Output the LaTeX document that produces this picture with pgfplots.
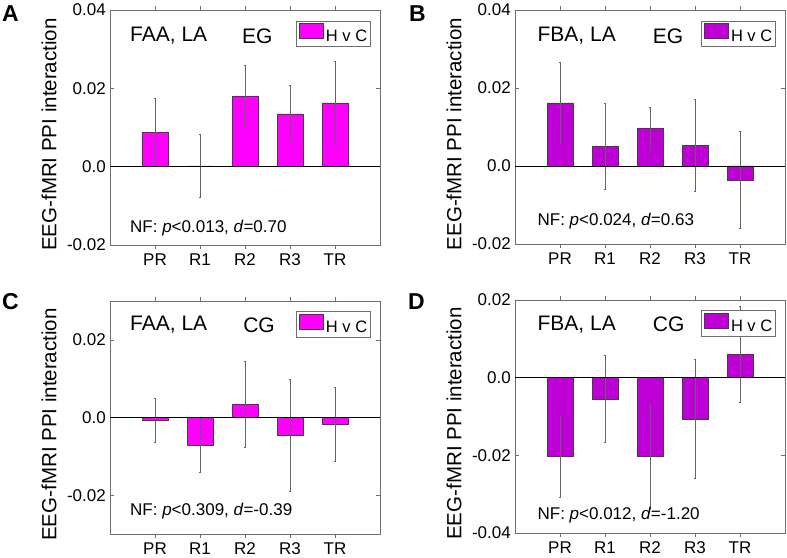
\documentclass[border=0pt]{standalone}
\usepackage{fontspec}
\setmainfont{Liberation Sans}
\usepackage{pgfplots}
\pgfplotsset{compat=1.18}
\definecolor{mag}{RGB}{255,0,255}
\definecolor{pur}{RGB}{190,0,215}
\definecolor{frame}{RGB}{110,110,110}
\definecolor{errc}{RGB}{100,100,100}

\pgfplotsset{
 panel/.style={
  scale only axis, width=270pt,
  xmin=0, xmax=6, xtick={1,2,3,4,5}, xticklabels={PR,R1,R2,R3,TR},
  scaled y ticks=false,
  axis line style={frame, line width=0.6pt},
  tick style={frame, line width=0.6pt},
  tick align=inside, major tick length=4pt,
  yticklabel style={font=\fontsize{17}{17}\selectfont, inner sep=0pt, xshift=-4pt},
  xticklabel style={font=\fontsize{17}{17}\selectfont, inner sep=0pt, yshift=-4.5pt},
  ylabel={EEG-fMRI PPI interaction},
  ylabel style={font=\fontsize{20.5}{20.5}\selectfont, at={(axis description cs:-0.226,0.47)}, anchor=center},
  ybar, bar width=26pt,
  legend style={at={(rel axis cs:0.965,0.955)}, anchor=north east, draw=frame, line width=0.6pt,
     font=\fontsize{16.5}{16.5}\selectfont, inner xsep=2pt, inner ysep=2.5pt,
     nodes={inner xsep=1pt, inner ysep=1pt}},
  legend cell align=left,
  legend image code/.code={\draw[##1, line width=0.5pt] (0pt,-2.5pt) rectangle (24pt,12.5pt);
     \path (26pt,0pt);},
  error bars/error bar style={errc, line width=0.6pt},
  error bars/error mark options={rotate=90, mark size=1.2pt, errc, line width=0.6pt},
 },
}
\tikzset{
 ttl/.style={anchor=west, inner sep=0pt, font=\fontsize{21}{21}\selectfont},
 nf/.style={anchor=west, inner sep=0pt, font=\fontsize{17}{17}\selectfont},
}

\begin{document}
\begin{tikzpicture}
% ---------------- A ----------------
\begin{axis}[panel, at={(110pt,312pt)}, anchor=south west, height=235pt,
  ymin=-0.02, ymax=0.04, ytick={-0.02,0,0.02,0.04}, yticklabels={-0.02,0.0,0.02,0.04}]
\addplot[fill=mag, draw=black!75, line width=0.5pt,
  error bars/.cd, y dir=both, y explicit] coordinates {
  (1,0.0088) +- (0,0.0087)
  (2,0.0002) +- (0,0.0080)
  (3,0.0180) +- (0,0.0080)
  (4,0.0135) +- (0,0.0074)
  (5,0.0163) +- (0,0.0107)
};
\addlegendentry{H v C}
\draw[black, line width=0.7pt] (axis cs:0,0) -- (axis cs:6,0);
\node[ttl] at (rel axis cs:0.074,0.889) {FAA, LA};
\node[ttl] at (rel axis cs:0.489,0.889) {EG};
\node[nf] at (rel axis cs:0.074,0.072) {NF: \textit{p}<0.013, \textit{d}=0.70};
\end{axis}
% ---------------- B ----------------
\begin{axis}[panel, at={(515pt,313pt)}, anchor=south west, height=234pt,
  ymin=-0.02, ymax=0.04, ytick={-0.02,0,0.02,0.04}, yticklabels={-0.02,0.0,0.02,0.04}]
\addplot[fill=pur, draw=black!75, line width=0.5pt,
  error bars/.cd, y dir=both, y explicit] coordinates {
  (1,0.0162) +- (0,0.0104)
  (2,0.0050) +- (0,0.0110)
  (3,0.0097) +- (0,0.0053)
  (4,0.0053) +- (0,0.0118)
  (5,-0.0036) +- (0,0.0125)
};
\addlegendentry{H v C}
\draw[black, line width=0.7pt] (axis cs:0,0) -- (axis cs:6,0);
\node[ttl] at (rel axis cs:0.083,0.889) {FBA, LA};
\node[ttl] at (rel axis cs:0.51,0.889) {EG};
\node[nf] at (rel axis cs:0.083,0.098) {NF: \textit{p}<0.024, \textit{d}=0.63};
\end{axis}
% ---------------- C ----------------
\begin{axis}[panel, at={(110pt,23pt)}, anchor=south west, height=233pt,
  ymin=-0.03, ymax=0.03, ytick={-0.02,0,0.02}, yticklabels={-0.02,0.0,0.02}]
\addplot[fill=mag, draw=black!75, line width=0.5pt,
  error bars/.cd, y dir=both, y explicit] coordinates {
  (1,-0.0008) +- (0,0.0057)
  (2,-0.0071) +- (0,0.0070)
  (3,0.0034) +- (0,0.0110)
  (4,-0.0046) +- (0,0.0145)
  (5,-0.0017) +- (0,0.0096)
};
\addlegendentry{H v C}
\draw[black, line width=0.7pt] (axis cs:0,0) -- (axis cs:6,0);
\node[ttl] at (rel axis cs:0.074,0.898) {FAA, LA};
\node[ttl] at (rel axis cs:0.493,0.898) {CG};
\node[nf] at (rel axis cs:0.074,0.097) {NF: \textit{p}<0.309, \textit{d}=-0.39};
\end{axis}
% ---------------- D ----------------
\begin{axis}[panel, at={(515pt,24pt)}, anchor=south west, height=233pt,
  ymin=-0.04, ymax=0.02, ytick={-0.04,-0.02,0,0.02}, yticklabels={-0.04,-0.02,0.0,0.02}]
\addplot[fill=pur, draw=black!75, line width=0.5pt,
  error bars/.cd, y dir=both, y explicit] coordinates {
  (1,-0.0202) +- (0,0.0106)
  (2,-0.0055) +- (0,0.0112)
  (3,-0.0203) +- (0,0.0134)
  (4,-0.0106) +- (0,0.0153)
  (5,0.0060) +- (0,0.0124)
};
\addlegendentry{H v C}
\draw[black, line width=0.7pt] (axis cs:0,0) -- (axis cs:6,0);
\node[ttl] at (rel axis cs:0.083,0.894) {FBA, LA};
\node[ttl] at (rel axis cs:0.51,0.894) {CG};
\node[nf] at (rel axis cs:0.083,0.076) {NF: \textit{p}<0.012, \textit{d}=-1.20};
\end{axis}
% panel letters
\node[anchor=north west, inner sep=0pt, font=\fontsize{23}{23}\selectfont\bfseries] at (2pt,552pt) {A};
\node[anchor=north west, inner sep=0pt, font=\fontsize{23}{23}\selectfont\bfseries] at (409pt,552pt) {B};
\node[anchor=north west, inner sep=0pt, font=\fontsize{23}{23}\selectfont\bfseries] at (2pt,264pt) {C};
\node[anchor=north west, inner sep=0pt, font=\fontsize{23}{23}\selectfont\bfseries] at (408pt,264pt) {D};
\pgfresetboundingbox
\path[use as bounding box] (0pt,0pt) rectangle (787pt,557pt);
\end{tikzpicture}
\end{document}
